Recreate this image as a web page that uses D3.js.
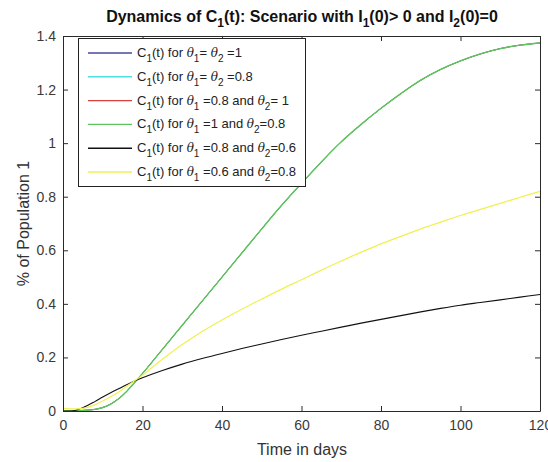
<!DOCTYPE html>
<html><head><meta charset="utf-8">
<script src="https://cdn.jsdelivr.net/npm/d3@7"></script>
<style>body{margin:0;background:#fff}svg{display:block;font-family:"Liberation Sans",Arial,sans-serif}</style>
</head><body><svg id="c" width="548" height="462"></svg>
<script>
const days = [0,3,5,8,10,12,14,16,18,20,25,30,35,40,45,50,55,60,65,70,75,80,85,90,95,100,105,110,115,120];
const cTheta11 = [0,0,0.002,0.006,0.013,0.026,0.046,0.073,0.106,0.14,0.23,0.32,0.41,0.5,0.59,0.68,0.768,0.85,0.93,1.005,1.07,1.13,1.185,1.235,1.275,1.307,1.333,1.353,1.366,1.374];
const cTheta0808 = cTheta11.slice();
const cTheta0810 = cTheta11.slice();
const cTheta1008 = cTheta11.slice();
const cTheta0806 = [0,0.002,0.012,0.035,0.052,0.068,0.083,0.098,0.112,0.124,0.151,0.175,0.196,0.215,0.233,0.25,0.267,0.283,0.298,0.313,0.328,0.342,0.356,0.37,0.383,0.395,0.405,0.415,0.425,0.435];
const cTheta0608 = [0.01,0.008,0.01,0.023,0.037,0.053,0.071,0.092,0.113,0.134,0.193,0.248,0.297,0.34,0.38,0.418,0.455,0.49,0.526,0.56,0.593,0.624,0.652,0.68,0.705,0.73,0.753,0.775,0.798,0.82];
const xTicks = [0,20,40,60,80,100,120];
const yTicks = [0,0.2,0.4,0.6,0.8,1,1.2,1.4];
const legendParts = [
  [["C"],["1","sub"],["(t) for "],["θ","it"],["1","sub"],["= "],["θ","it"],["2","sub"],[" =1"]],
  [["C"],["1","sub"],["(t) for "],["θ","it"],["1","sub"],["= "],["θ","it"],["2","sub"],[" =0.8"]],
  [["C"],["1","sub"],["(t) for "],["θ","it"],["1","sub"],[" =0.8 and "],["θ","it"],["2","sub"],["= 1"]],
  [["C"],["1","sub"],["(t) for "],["θ","it"],["1","sub"],[" =1 and "],["θ","it"],["2","sub"],["=0.8"]],
  [["C"],["1","sub"],["(t) for "],["θ","it"],["1","sub"],[" =0.8 and "],["θ","it"],["2","sub"],["=0.6"]],
  [["C"],["1","sub"],["(t) for "],["θ","it"],["1","sub"],[" =0.6 and "],["θ","it"],["2","sub"],["=0.8"]]
];
const seriesValues = [cTheta11,cTheta0808,cTheta0810,cTheta1008,cTheta0806,cTheta0608];
const colors = ["#48489a","#50dede","#d84040","#5cc65c","#111111","#f0f050"];
const widths = [0.8,0.8,0.8,1.4,1.1,1.2];

const svg = d3.select("#c");
const L=63,R=540,T=36,B=411;
const x = d3.scaleLinear().domain([0,120]).range([L,R]);
const y = d3.scaleLinear().domain([0,1.4]).range([B,T]);
const axCol="#2a2a2a";

const line = d3.line().x((d,i)=>x(days[i])).y(d=>y(d)).curve(d3.curveCatmullRom.alpha(0.5));
seriesValues.forEach((s,i)=>{
  svg.append("path").datum(s).attr("d",line).attr("fill","none")
    .attr("stroke",colors[i]).attr("stroke-width",widths[i]);
});

// axes
const gx = svg.append("g").attr("transform",`translate(0,${B})`)
  .call(d3.axisBottom(x).tickValues(xTicks).tickSizeInner(-5).tickSizeOuter(0).tickPadding(9));
const gxt = svg.append("g").attr("transform",`translate(0,${T})`)
  .call(d3.axisTop(x).tickValues(xTicks).tickSizeInner(-5).tickSizeOuter(0).tickFormat(""));
const gy = svg.append("g").attr("transform",`translate(${L},0)`)
  .call(d3.axisLeft(y).tickValues(yTicks).tickSizeInner(-5).tickSizeOuter(0).tickPadding(7).tickFormat(d=>d3.format("~g")(d)));
const gyr = svg.append("g").attr("transform",`translate(${R},0)`)
  .call(d3.axisRight(y).tickValues(yTicks).tickSizeInner(-5).tickSizeOuter(0).tickFormat(""));
[gx,gxt,gy,gyr].forEach(g=>{
  g.selectAll("path").attr("stroke",axCol);
  g.selectAll("line").attr("stroke",axCol);
  g.selectAll("text").attr("fill","#3a3a3a").style("font-size","14px").style("font-family","Liberation Sans, Arial, sans-serif");
});

// title
const title = svg.append("text").attr("x",302).attr("y",22).attr("text-anchor","middle")
  .style("font-size","16px").style("font-weight","bold").attr("fill","#111");
let tPrevSub=false;
[["Dynamics of C"],["1","sub"],["(t): Scenario with I"],["1","sub"],["(0)> 0 and I"],["2","sub"],["(0)=0"]].forEach(p=>{
  const ts = title.append("tspan").text(p[0]);
  if(p[1]==="sub"){ ts.attr("dy",5).style("font-size","12px"); tPrevSub=true; }
  else { ts.attr("dy", tPrevSub ? -5 : 0); tPrevSub=false; }
});

// axis labels
svg.append("text").attr("x",302).attr("y",455).attr("text-anchor","middle")
  .style("font-size","16px").attr("fill","#333").text("Time in days");
svg.append("text").attr("transform",`translate(29,${(T+B)/2}) rotate(-90)`).attr("text-anchor","middle")
  .style("font-size","16px").attr("fill","#333").text("% of Population 1");

// legend
const lg = svg.append("g");
lg.append("rect").attr("x",78.5).attr("y",38.5).attr("width",227).attr("height",148)
  .attr("fill","#fff").attr("stroke","#222").attr("stroke-width",1);
legendParts.forEach((parts,i)=>{
  const yy = 53 + i*23.8;
  lg.append("line").attr("x1",88).attr("x2",132).attr("y1",yy).attr("y2",yy)
    .attr("stroke",colors[i]).attr("stroke-width",1.4);
  const t = lg.append("text").attr("x",137).attr("y",yy+4).style("font-size","13px").attr("fill","#222");
  let prevSub=false;
  parts.forEach(p=>{
    const ts=t.append("tspan").text(p[0]);
    let dy=0;
    if(p[1]==="sub"){dy=prevSub?0:5; ts.style("font-size","10px"); prevSub=true;}
    else {dy=prevSub?-5:0; prevSub=false;}
    ts.attr("dy",dy);
    if(p[1]==="it") ts.style("font-style","italic").style("font-family","DejaVu Serif, serif").style("font-size","12px");
  });
});
</script></body></html>
